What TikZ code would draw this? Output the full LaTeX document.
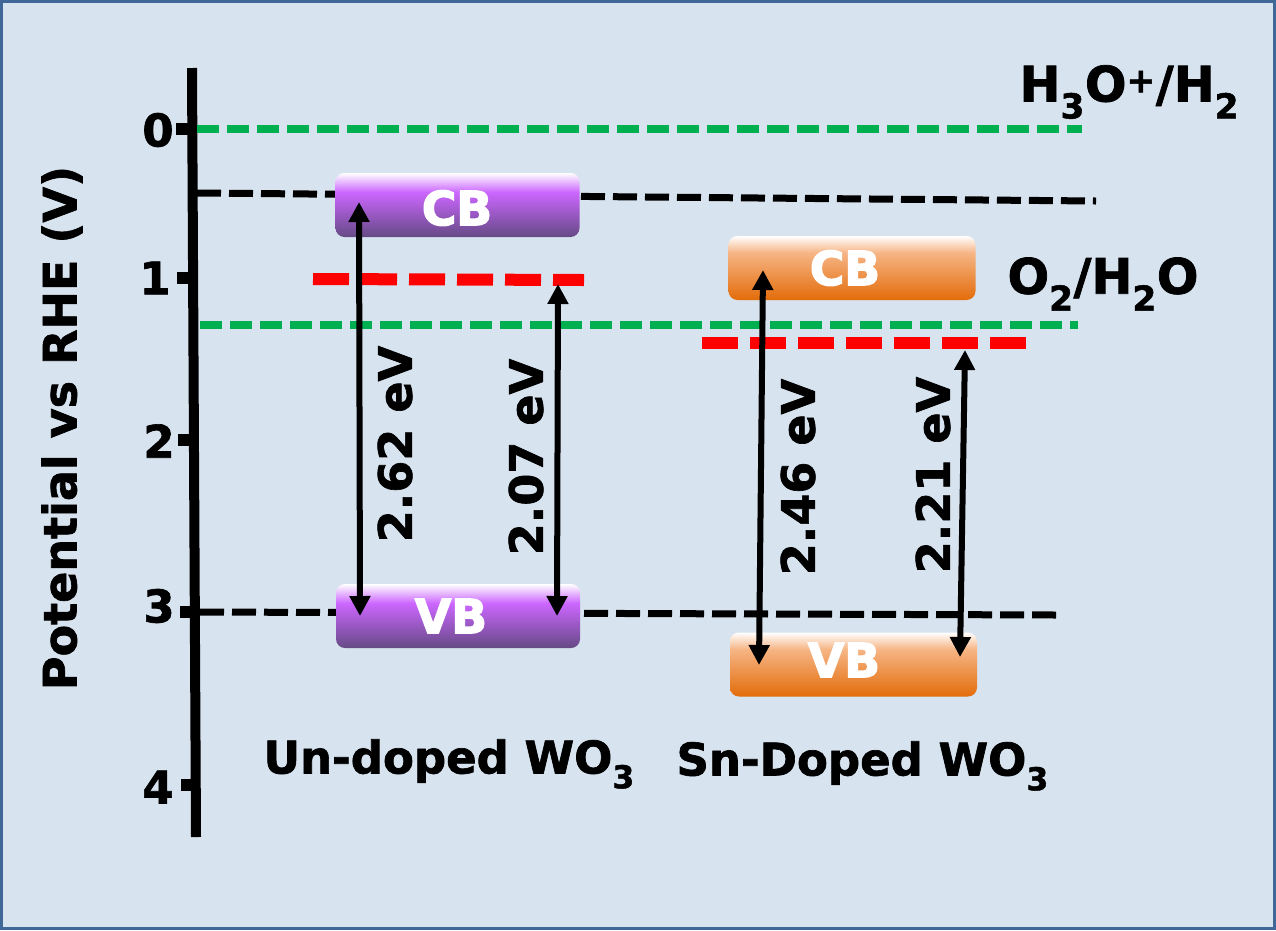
\documentclass[tikz,border=0pt]{standalone}
\usepackage{fontspec}
\setmainfont{DejaVu Sans}[BoldFont={DejaVu Sans Bold},BoldFeatures={FakeBold=1.5}]
\newfontfamily\bandfont{DejaVu Sans Bold}[FakeBold=3]
\usetikzlibrary{arrows.meta}
\definecolor{bgblue}{HTML}{D7E3EF}
\definecolor{frameblue}{HTML}{3F6797}
\definecolor{greenline}{HTML}{00B050}
\definecolor{pa}{HTML}{654A85}
\definecolor{pb}{HTML}{CC66FF}
\definecolor{oa}{HTML}{E36C0A}
\definecolor{ob}{HTML}{F6B585}
\pgfdeclareverticalshading{purpleband}{100bp}{color(0bp)=(pa);color(25bp)=(pa);color(60bp)=(pb);color(75bp)=(white);color(100bp)=(white)}
\pgfdeclareverticalshading{orangeband}{100bp}{color(0bp)=(oa);color(25bp)=(oa);color(62bp)=(ob);color(75bp)=(white);color(100bp)=(white)}
\tikzset{
  x=1pt,y=-1pt,
  band/.style={rounded corners=9pt,minimum height=64pt,inner sep=0pt},
  bandtext/.style={font=\fontsize{47}{47}\bandfont,text=white},
  purpleb/.style={band,shading=purpleband,minimum width=244pt},
  orangeb/.style={band,shading=orangeband,minimum width=247pt},
  axisline/.style={line width=10pt},
  tick/.style={line width=12pt},
  ticklabel/.style={font=\fontsize{45}{45}\selectfont\bfseries},
  blackdash/.style={line width=7pt,dash pattern=on 24pt off 8pt},
  greendash/.style={line width=8pt,color=greenline,dash pattern=on 22pt off 8pt},
  reddash/.style={line width=12pt,color=red,dash pattern=on 36pt off 12pt},
  gap/.style={line width=6pt,{Triangle[length=20pt,width=20pt]}-{Triangle[length=20pt,width=20pt]}},
  gaplabel/.style={rotate=90,font=\fontsize{46}{46}\selectfont\bfseries},
  titlelarge/.style={font=\fontsize{49}{49}\selectfont\bfseries},
  titlesmall/.style={font=\fontsize{45}{45}\selectfont\bfseries},
}
\begin{document}
\begin{tikzpicture}
\useasboundingbox (0,0) rectangle (1276,930);
\fill[frameblue] (0,0) rectangle (1276,930);
\fill[bgblue] (3,3) rectangle (1273,927);
% axis
\coordinate (axt) at (192,68);
\coordinate (axb) at (196,837);
\draw[axisline] (axt) -- (axb);
\foreach \n/\y/\xa/\xb in {t0/129/176/191,t1/278/177/192,t2/440/178/193,t3/612/180/195,t4/785/181/196}{
  \coordinate (\n a) at (\xa,\y); \coordinate (\n b) at (\xb,\y);
  \draw[tick] (\n a) -- (\n b);
}
\node[ticklabel] (l0) at (158,130) {0};
\node[ticklabel] (l1) at (155,278) {1};
\node[ticklabel] (l2) at (159,441) {2};
\node[ticklabel] (l3) at (159,606) {3};
\node[ticklabel] (l4) at (158,787) {4};
\node[rotate=90,font=\fontsize{46}{46}\selectfont\bfseries] (ylabel) at (62,428) {Potential vs RHE (V)};
% levels
\coordinate (g1a) at (197,129); \coordinate (g1b) at (1082,129);
\coordinate (g2a) at (200,325); \coordinate (g2b) at (1078,325);
\coordinate (k1a) at (197,193); \coordinate (k1b) at (1096,201);
\coordinate (k2a) at (200,612); \coordinate (k2b) at (1057,615);
\coordinate (r1a) at (313,279); \coordinate (r1b) at (584,280);
\coordinate (r2a) at (702,343); \coordinate (r2b) at (1027,343);
\draw[blackdash] (k1a) -- (k1b);
\draw[blackdash] (k2a) -- (k2b);
\draw[greendash] (g1a) -- (g1b);
\draw[greendash] (g2a) -- (g2b);
% bands
\node[purpleb] (cb1) at (457.5,205) {};
\node[purpleb] (vb1) at (458,616) {};
\node[orangeb] (cb2) at (852,268) {};
\node[orangeb] (vb2) at (853.5,664.5) {};
\node[bandtext] (cb1t) at (457,208) {CB};
\node[bandtext] (vb1t) at (451,616) {VB};
\node[bandtext] (cb2t) at (845,268) {CB};
\node[bandtext] (vb2t) at (844,660) {VB};
\draw[reddash] (r1a) -- (r1b);
\draw[reddash] (r2a) -- (r2b);
% gaps
\coordinate (a1t) at (359,202); \coordinate (a1b) at (360,616);
\coordinate (a2t) at (558,284); \coordinate (a2b) at (557,616);
\coordinate (a3t) at (763,270); \coordinate (a3b) at (759,665);
\coordinate (a4t) at (965,350); \coordinate (a4b) at (960,657);
\draw[gap] (a1t) -- (a1b);
\draw[gap] (a2t) -- (a2b);
\draw[gap] (a3t) -- (a3b);
\draw[gap] (a4t) -- (a4b);
\node[gaplabel] (e1) at (395,444) {2.62 eV};
\node[gaplabel] (e2) at (526,457) {2.07 eV};
\node[gaplabel] (e3) at (798,477) {2.46 eV};
\node[gaplabel] (e4) at (933,475) {2.21 eV};
% titles
\node[titlelarge,anchor=west] (h) at (1016,92) {H\textsubscript{3}O\textsuperscript{+}/H\textsubscript{2}};
\node[titlelarge,anchor=west] (o) at (1004,284) {O\textsubscript{2}/H\textsubscript{2}O};
\node[titlesmall,anchor=west] (ud) at (260,764) {Un-doped WO\textsubscript{3}};
\node[titlesmall,anchor=west] (sd) at (673,766) {Sn-Doped WO\textsubscript{3}};
\end{tikzpicture}
\end{document}
